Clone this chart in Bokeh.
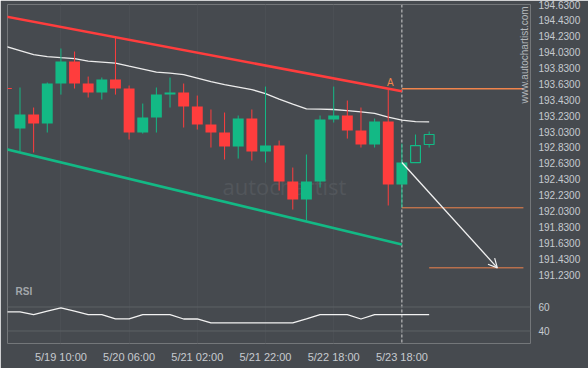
import numpy as np
import pandas as pd
from bokeh.plotting import figure
from bokeh.models import (ColumnDataSource, Range1d, FixedTicker, Span, Label, Arrow, OpenHead)
from bokeh.embed import file_html
from bokeh.resources import INLINE

# ---------------- data ----------------
candle_idx = list(range(-1, 29))
opens = [193.580, 193.068, 193.245, 193.131, 193.635, 193.912, 193.635, 193.522, 193.685, 193.572,
         193.018, 193.207, 193.496, 193.522, 193.345, 193.119, 193.018, 192.842, 193.194, 192.779,
         192.854, 192.401, 192.174, 192.401, 193.182, 193.232, 193.043, 192.867, 193.156, 192.363]
highs = [193.590, 193.585, 193.333, 193.648, 194.076, 194.038, 193.723, 193.711, 194.214, 193.610,
         193.383, 193.585, 193.711, 193.635, 193.484, 193.308, 193.270, 193.232, 193.308, 193.597,
         192.917, 192.577, 192.741, 193.232, 193.597, 193.421, 193.333, 193.194, 193.559, 192.879]
lows = [193.555, 192.779, 192.766, 193.018, 193.496, 193.572, 193.459, 193.434, 193.496, 192.930,
        193.005, 193.018, 193.333, 193.081, 193.056, 192.829, 192.678, 192.690, 192.665, 192.640,
        192.287, 192.048, 191.910, 192.325, 193.144, 192.942, 192.829, 192.829, 192.099, 192.073]
closes = [193.565, 193.245, 193.131, 193.635, 193.912, 193.635, 193.522, 193.685, 193.572, 193.018,
          193.207, 193.496, 193.522, 193.345, 193.119, 193.018, 192.842, 193.194, 192.779, 192.854,
          192.401, 192.174, 192.401, 193.182, 193.232, 193.043, 192.867, 193.156, 192.363, 192.640]

proj_idx = [29, 30]
proj_open = [192.640, 192.867]
proj_high = [192.993, 193.031]
proj_low = [192.640, 192.829]
proj_close = [192.854, 192.993]

line_idx = list(range(-1, 31))
ma_vals = [194.101, 194.051, 194.000, 193.975, 193.962, 193.950, 193.918, 193.906, 193.893, 193.855,
           193.818, 193.780, 193.767, 193.748, 193.704, 193.660, 193.622, 193.591, 193.559, 193.509,
           193.440, 193.377, 193.316, 193.313, 193.308, 193.295, 193.279, 193.260, 193.211, 193.175,
           193.156, 193.153]
rsi_vals = [56.0, 56.0, 53.7, 56.5, 59.3, 56.5, 53.7, 53.7, 50.1, 50.1,
            53.7, 53.7, 53.7, 50.0, 50.0, 46.8, 46.8, 46.8, 46.8, 46.8,
            46.8, 46.8, 50.1, 53.7, 53.7, 53.7, 50.0, 53.7, 53.7, 53.7,
            53.7, 53.7]

upper_x = [-1, 28]
upper_y = [194.478, 193.538]
lower_x = [-1, 28]
lower_y = [192.807, 191.607]

level_y = [193.568, 192.070, 191.314]
level_x0 = [28, 28, 30]
level_x1 = [36.91, 36.91, 36.91]

arrow_x = [28, 35]
arrow_y = [192.640, 191.314]

event_idx = 28
price_ticks = [191.23, 191.43, 191.63, 191.83, 192.03, 192.23, 192.43, 192.63, 192.83,
               193.03, 193.23, 193.43, 193.63, 193.83, 194.03, 194.23, 194.43, 194.63]
rsi_ticks = [40, 60]
x_ticks = [3, 8, 13, 18, 23, 28]
x_labels = ["5/19 10:00", "5/20 06:00", "5/21 02:00", "5/21 22:00", "5/22 18:00", "5/23 18:00"]

# ---------------- style ----------------
BG = "#464a4f"
GREEN = "#13b985"
RED = "#ff3d3d"
ORANGE = "#f0844c"
TXT = "#c6cacf"
GRIDV = "#4b4f54"
GRIDH = "#5d6166"
FONT = "Liberation Sans"

df = pd.DataFrame(dict(idx=candle_idx, open=opens, high=highs, low=lows, close=closes))
df["top"] = df[["open", "close"]].max(axis=1)
df["bottom"] = df[["open", "close"]].min(axis=1)
df["color"] = np.where(df["close"] >= df["open"], GREEN, RED)
src = ColumnDataSource(df)

pdf = pd.DataFrame(dict(idx=proj_idx, open=proj_open, high=proj_high, low=proj_low, close=proj_close))
pdf["top"] = pdf[["open", "close"]].max(axis=1)
pdf["bottom"] = pdf[["open", "close"]].min(axis=1)
psrc = ColumnDataSource(pdf)

P0, P1 = 190.361, 194.6305   # price range (bottom, top) of the frame
R0, R1 = 29.58, 312.08       # RSI range mapped onto the same frame

p = figure(width=588, height=368, output_backend="svg", toolbar_location=None,
           x_range=Range1d(-0.916, 37.43), y_range=Range1d(P0, P1),
           y_axis_location="right",
           min_border_left=7, min_border_right=58, min_border_top=4, min_border_bottom=25,
           background_fill_color=BG, border_fill_color=BG, outline_line_color=None)
p.extra_y_ranges = {"rsi": Range1d(R0, R1)}

p.xgrid.ticker = FixedTicker(ticks=x_ticks)
p.xgrid.grid_line_color = GRIDV
p.ygrid.visible = False

# watermark + event line (behind everything)
p.add_layout(Label(x=14.85, y=192.35, text="autochartist", text_font="Open Sans",
                   text_font_size="22px", text_color="#52565b", text_baseline="middle",
                   level="underlay"))
p.add_layout(Span(location=event_idx, dimension="height", line_color="#cfcfcf",
                  line_dash="3 2", line_width=1, level="underlay"))
for t in rsi_ticks:
    p.add_layout(Span(location=t, dimension="width", y_range_name="rsi",
                      line_color=GRIDH, line_width=1, level="underlay"))

# channel + moving average
p.line(upper_x, upper_y, line_color=RED, line_width=2.6)
p.line(lower_x, lower_y, line_color=GREEN, line_width=2.6)
p.line(line_idx, ma_vals, line_color="#ececec", line_width=1.3)

# candles
p.segment(x0="idx", y0="high", x1="idx", y1="low", line_color="color", line_width=1, source=src)
p.vbar(x="idx", width=0.8, top="top", bottom="bottom", fill_color="color", line_color=None, source=src)
p.segment(x0="idx", y0="high", x1="idx", y1="low", line_color=GREEN, line_width=1, source=psrc)
p.vbar(x="idx", width=0.72, top="top", bottom="bottom", fill_color=BG, line_color=GREEN,
       line_width=1.2, source=psrc)

# levels + forecast arrow
p.segment(x0=level_x0, y0=level_y, x1=level_x1, y1=level_y, line_color=ORANGE,
          line_width=[1.5, 1, 1])
p.add_layout(Arrow(end=OpenHead(size=9, line_color="#f2f2f2", line_width=1.2),
                   x_start=arrow_x[0], y_start=arrow_y[0], x_end=arrow_x[1], y_end=arrow_y[1],
                   line_color="#f2f2f2", line_width=1.3))

p.add_layout(Label(x=27.15, y=193.648, text="A", text_font=FONT, text_font_size="10px",
                   text_color=ORANGE, text_align="center", text_baseline="middle"))
p.add_layout(Label(x=37.02, y=193.383, text="www.autochartist.com", text_font=FONT,
                   text_font_size="10px", text_color="#b4b8bc", angle=np.pi / 2,
                   text_align="left", text_baseline="middle"))

# RSI
p.line(line_idx, rsi_vals, line_color="#f2f2f2", line_width=1.3, y_range_name="rsi")
p.add_layout(Label(x=-0.33, y=72.9, y_range_name="rsi", text="RSI", text_font=FONT,
                   text_font_size="10px", text_font_style="bold", text_color="#a3a7ab",
                   text_baseline="middle"))

# right axis: price ticks + RSI ticks placed at their positions on the shared frame
def rsi_to_price(v):
    return P0 + (v - R0) * (P1 - P0) / (R1 - R0)

rsi_tick_pos = [rsi_to_price(v) for v in rsi_ticks]
overrides = {t: "%.4f" % t for t in price_ticks}
for v, pos in zip(rsi_ticks, rsi_tick_pos):
    overrides[pos] = str(v)

ya = p.yaxis[0]
ya.ticker = FixedTicker(ticks=price_ticks + rsi_tick_pos)
ya.major_label_overrides = overrides
ya.axis_line_color = None
ya.major_tick_line_color = None
ya.minor_tick_line_color = None
ya.major_label_standoff = 2
ya.major_label_text_font = FONT
ya.major_label_text_font_size = "10px"
ya.major_label_text_color = TXT

xa = p.xaxis[0]
xa.ticker = FixedTicker(ticks=x_ticks)
xa.major_label_overrides = {t: l for t, l in zip(x_ticks, x_labels)}
xa.axis_line_color = None
xa.major_tick_line_color = None
xa.minor_tick_line_color = None
xa.major_label_standoff = 1
xa.major_label_text_font = FONT
xa.major_label_text_font_size = "11px"
xa.major_label_text_color = TXT

html = file_html(p, INLINE)
html = html.replace("<body>", '<body style="background-color:%s;">' % BG, 1)
open("out.html", "w").write(html)
